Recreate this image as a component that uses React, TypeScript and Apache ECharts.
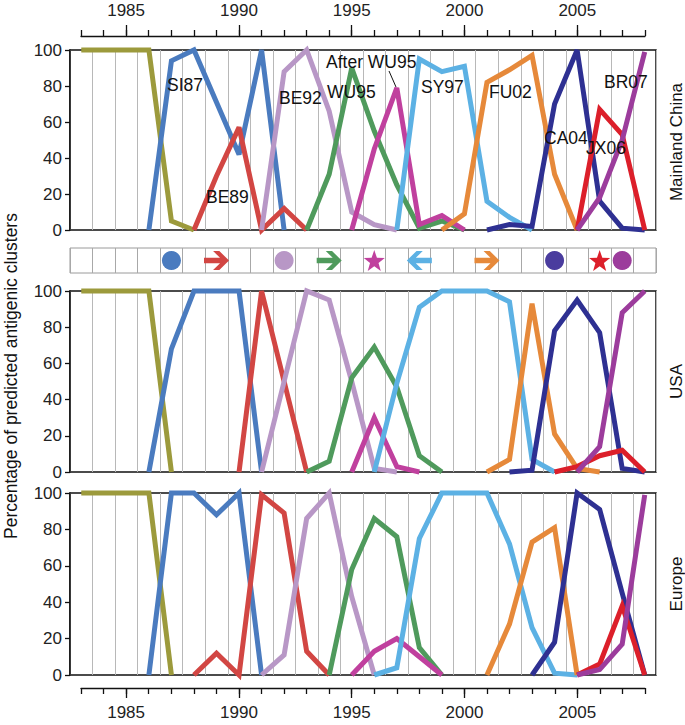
import React, { useEffect, useRef } from "react";
import * as echarts from "echarts";

const years = ["1983","1984","1985","1986","1987","1988","1989","1990","1991","1992","1993","1994","1995","1996","1997","1998","1999","2000","2001","2002","2003","2004","2005","2006","2007","2008"];
const majorYears = [1985, 1990, 1995, 2000, 2005];

const clusterNames = ["Pre-SI87", "SI87", "BE89", "BE92", "WU95", "After WU95", "SY97", "FU02", "CA04", "JX06", "BR07"];
const clusterColors = ["#9c9a3c", "#4a7bbf", "#d24643", "#b897c6", "#4f9a5c", "#c0409e", "#5cb1e4", "#e6893a", "#2e3092", "#dc1f2a", "#9c3c9c"];

// Mainland China: first year of each cluster, then yearly percentages
const chinaStart = [1983, 1986, 1988, 1991, 1993, 1995, 1997, 1999, 2001, 2005, 2005];
const chinaValues = [
  [100, 100, 100, 100, 5, 0],
  [0, 94, 100, 71, 42, 100, 0],
  [0, 30, 57, 0, 12, 0],
  [0, 88, 100, 66, 10, 3, 0],
  [0, 31, 90, 55, 25, 1, 5, 0],
  [0, 45, 79, 3, 8, 0],
  [0, 95, 88, 91, 16, 7, 0],
  [0, 9, 82, 89, 97, 31, 0],
  [0, 3, 2, 70, 100, 16, 1, 0],
  [0, 67, 53, 0],
  [0, 18, 50, 99],
];

// USA
const usaStart = [1983, 1986, 1990, 1991, 1993, 1995, 1996, 2001, 2002, 2004, 2005];
const usaValues = [
  [100, 100, 100, 100, 0],
  [0, 68, 100, 100, 100, 0],
  [0, 100, 50, 0],
  [0, 50, 100, 95, 50, 2, 0],
  [0, 6, 52, 69, 47, 9, 0],
  [0, 30, 3, 0],
  [0, 49, 91, 100, 100, 100, 94, 7, 0],
  [0, 7, 93, 21, 2, 0],
  [0, 1, 78, 95, 77, 2, 0],
  [0, 3, 9, 12, 0],
  [0, 14, 88, 100],
];

// Europe
const europeStart = [1983, 1986, 1988, 1991, 1994, 1995, 1996, 2001, 2003, 2005, 2005];
const europeValues = [
  [100, 100, 100, 100, 0],
  [0, 100, 100, 88, 100, 0],
  [0, 12, 0, 99, 89, 13, 0],
  [0, 11, 86, 100, 43, 0],
  [0, 58, 86, 76, 15, 0],
  [0, 13, 20, 10, 0],
  [0, 4, 75, 100, 100, 100, 72, 26, 1, 0],
  [0, 28, 73, 81, 0],
  [0, 18, 100, 91, 45, 0],
  [0, 6, 38, 0],
  [0, 3, 17, 99],
];

const regionNames = ["Mainland China", "USA", "Europe"];

// strip of markers: year of emergence of each cluster
const markerYears = ["1987", "1989", "1992", "1994", "1996", "1998", "2001", "2004", "2006", "2007"];
const markerClusters = [1, 2, 3, 4, 5, 6, 7, 8, 9, 10];
const markerShapes = ["circle", "arrowRight", "circle", "arrowRight", "star", "arrowLeft", "arrowRight", "circle", "star", "circle"];
const markerColors = ["#4a7bbf", "#d24643", "#b897c6", "#4f9a5c", "#c0409e", "#5cb1e4", "#e6893a", "#4a3c9e", "#dc1f2a", "#9c3c9c"];

// label layout for the Mainland China panel (pixel positions)
const labelClusters = [1, 2, 3, 4, 5, 6, 7, 8, 9, 10];
const labelPos = [
  [167, 85], [206, 197], [279, 98], [327, 92], [326, 62], [421, 87], [489, 92], [544, 138], [586, 148], [604, 82],
];

const ARROW = "path://M0,7.5 L14.1,7.5 L8,1 L13.5,1 L22,10 L13.5,19 L8,19 L14.1,12.5 L0,12.5 Z";
const STAR = "path://M12,0 L14.9,8.1 L23.4,8.3 L16.6,13.5 L19.1,21.7 L12,16.9 L4.9,21.7 L7.4,13.5 L0.6,8.3 L9.1,8.1 Z";

const FONT = "'Liberation Sans', Arial, Helvetica, sans-serif";

function fill(start: number, vals: number[]) {
  const arr: (number | null)[] = years.map(() => null);
  vals.forEach((v, i) => {
    arr[start - 1983 + i] = v;
  });
  return arr;
}

export default function App() {
  const ref = useRef<HTMLDivElement>(null);
  useEffect(() => {
    document.body.style.margin = "0";
    if (!ref.current) return;
    const chart = echarts.init(ref.current, null, { renderer: "svg" });

    const left = 70;
    const width = 586;
    const panelGrids = [
      { left, width, top: 50, height: 180 },
      { left, width, top: 291, height: 181 },
      { left, width, top: 493, height: 182 },
    ];
    const stripGrid = { left, width, top: 248, height: 25 };

    const grids: any[] = [
      { ...panelGrids[0], show: true, borderColor: "#111", borderWidth: 1.5 },
      { ...stripGrid, show: true, borderColor: "#9a9a9a", borderWidth: 1 },
      { ...panelGrids[1], show: true, borderColor: "#111", borderWidth: 1.5 },
      { ...panelGrids[2], show: true, borderColor: "#111", borderWidth: 1.5 },
      { left: 81, width: 564, top: 35, height: 1 },
      { left: 81, width: 564, top: 687, height: 1 },
    ];

    const catAxis = (gridIndex: number, splitColor: string) => ({
      type: "category",
      gridIndex,
      data: years,
      boundaryGap: true,
      axisLine: { show: false },
      axisTick: { show: false, interval: 0 },
      axisLabel: { show: false, interval: 0 },
      splitLine: { show: true, interval: 0, lineStyle: { color: splitColor, width: 1 } },
    });

    const yearAxis = (gridIndex: number, position: string, major: boolean) => ({
      type: "value",
      gridIndex,
      position,
      min: 1983,
      max: 2008,
      interval: 1,
      axisLine: { show: !major, lineStyle: { color: "#111", width: 1.3 } },
      axisTick: major
        ? { show: true, customValues: majorYears, length: 10, lineStyle: { color: "#111", width: 1.3 } }
        : { show: true, length: 6, lineStyle: { color: "#111", width: 1.3 } },
      axisLabel: major
        ? {
            show: true,
            customValues: majorYears,
            formatter: (v: number) => String(v),
            fontSize: 17,
            color: "#222",
            fontFamily: FONT,
            margin: 16,
          }
        : { show: false },
      splitLine: { show: false },
    });

    const valAxis = (gridIndex: number) => ({
      type: "value",
      gridIndex,
      min: 0,
      max: 100,
      interval: 20,
      axisLine: { show: true, lineStyle: { color: "#111", width: 1.5 } },
      axisTick: { show: true, length: 5, lineStyle: { color: "#111", width: 1.3 } },
      axisLabel: { fontSize: 17, color: "#222", fontFamily: FONT, margin: 8 },
      splitLine: { show: false },
    });

    const xAxis = [
      catAxis(0, "#b8b8b8"),
      catAxis(1, "#a8a8a8"),
      catAxis(2, "#b8b8b8"),
      catAxis(3, "#b8b8b8"),
      yearAxis(4, "top", false),
      yearAxis(4, "top", true),
      yearAxis(5, "bottom", false),
      yearAxis(5, "bottom", true),
    ];
    const yAxis = [
      valAxis(0),
      { type: "value", gridIndex: 1, min: 0, max: 1, show: false },
      valAxis(2),
      valAxis(3),
      { type: "value", gridIndex: 4, min: 0, max: 1, show: false },
      { type: "value", gridIndex: 5, min: 0, max: 1, show: false },
    ];

    const series: any[] = [];
    const regions = [
      { start: chinaStart, values: chinaValues, axis: 0 },
      { start: usaStart, values: usaValues, axis: 2 },
      { start: europeStart, values: europeValues, axis: 3 },
    ];
    regions.forEach((r, ri) => {
      r.values.forEach((vals, ci) => {
        series.push({
          name: regionNames[ri] + " " + clusterNames[ci],
          type: "line",
          xAxisIndex: r.axis,
          yAxisIndex: r.axis,
          data: fill(r.start[ci], vals),
          symbol: "none",
          clip: false,
          connectNulls: false,
          lineStyle: { color: clusterColors[ci], width: 5, join: "miter", miterLimit: 3, cap: "butt" },
          itemStyle: { color: clusterColors[ci] },
          z: 3,
        });
      });
    });

    series.push({
      type: "scatter",
      xAxisIndex: 1,
      yAxisIndex: 1,
      z: 4,
      data: markerYears.map((yr, i) => {
        const shape = markerShapes[i];
        const color = markerColors[i];
        let symbol = "circle";
        let symbolSize: any = 19;
        let symbolRotate = 0;
        if (shape === "arrowRight" || shape === "arrowLeft") {
          symbol = ARROW;
          symbolSize = [25, 19];
          symbolRotate = shape === "arrowLeft" ? 180 : 0;
        } else if (shape === "star") {
          symbol = STAR;
          symbolSize = 21;
        }
        return {
          name: clusterNames[markerClusters[i]],
          value: [yr, 0.5],
          symbol,
          symbolSize,
          symbolRotate,
          itemStyle: { color, opacity: 1 },
        };
      }),
    });

    const graphic: any[] = [];
    labelClusters.forEach((ci, i) => {
      graphic.push({
        type: "text",
        x: labelPos[i][0],
        y: labelPos[i][1],
        z: 10,
        style: {
          text: clusterNames[ci],
          fontSize: 17.5,
          fontFamily: FONT,
          fill: "#111",
          align: "left",
          verticalAlign: "middle",
        },
      });
    });
    graphic.push({
      type: "line",
      z: 10,
      shape: { x1: 389, y1: 71, x2: 396, y2: 87 },
      style: { stroke: "#111", lineWidth: 1 },
    });
    const regionCenters = [142, 381.5, 584];
    regionNames.forEach((nm, i) => {
      graphic.push({
        type: "text",
        x: 676,
        y: regionCenters[i],
        rotation: Math.PI / 2,
        style: { text: nm, fontSize: 17, fontFamily: FONT, fill: "#111", align: "center", verticalAlign: "middle" },
      });
    });
    graphic.push({
      type: "text",
      x: 11,
      y: 376,
      rotation: Math.PI / 2,
      style: {
        text: "Percentage of predicted antigenic clusters",
        fontSize: 17.5,
        fontFamily: FONT,
        fill: "#111",
        align: "center",
        verticalAlign: "middle",
      },
    });

    chart.setOption({
      animation: false,
      backgroundColor: "#ffffff",
      textStyle: { fontFamily: FONT },
      grid: grids,
      xAxis,
      yAxis,
      series,
      graphic,
    });
    return () => chart.dispose();
  }, []);
  return <div ref={ref} style={{ width: 685, height: 725 }} />;
}
